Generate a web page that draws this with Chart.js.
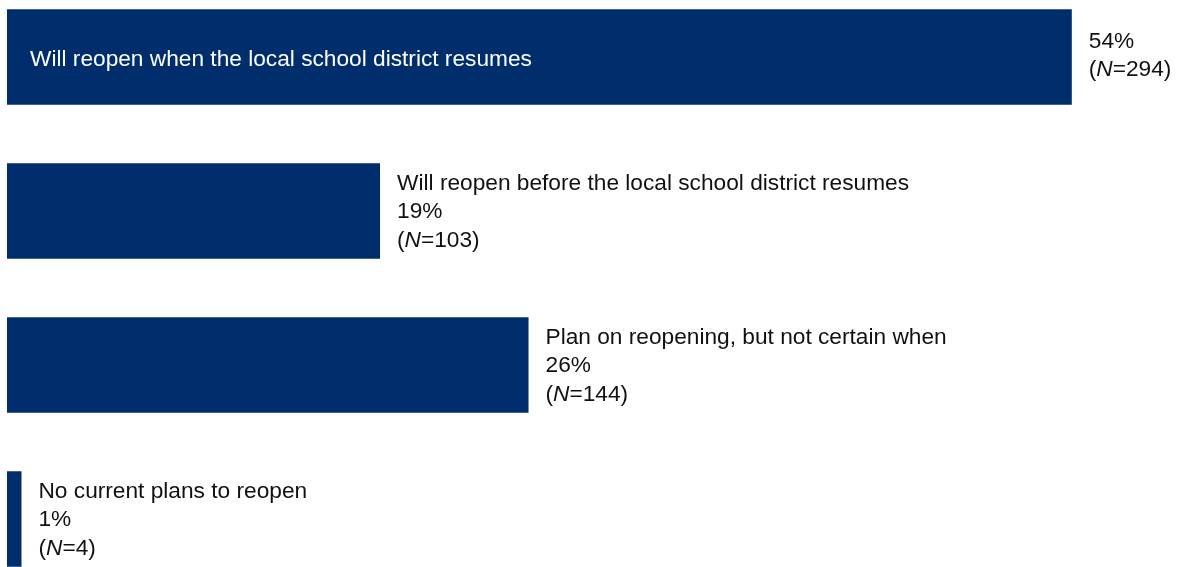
<!DOCTYPE html>
<html>
<head>
<meta charset="utf-8">
<script src="https://cdn.jsdelivr.net/npm/chart.js@4"></script>
<style>
    html, body { margin: 0; padding: 0; background: #fff; overflow: hidden; }
    #wrap { position: relative; width: 1179px; height: 616px; margin-top: -20px; }
</style>
</head>
<body>
<div id="wrap"><canvas id="reopenChart"></canvas></div>
<script>
const categories = [
    'Will reopen when the local school district resumes',
    'Will reopen before the local school district resumes',
    'Plan on reopening, but not certain when',
    'No current plans to reopen'
];
const counts = [294, 103, 144, 4];
const percentLabels = ['54%', '19%', '26%', '1%'];

const barColor = '#002E6D';
const textColor = '#111111';
const labelFont = '22.7px "Liberation Sans", Arial, sans-serif';
const italicFont = 'italic 22.7px "Liberation Sans", Arial, sans-serif';
const lineHeight = 28.5;

// draws "(N=xx)" with an italic N
function drawNLine(ctx, x, y, n) {
    ctx.font = labelFont;
    ctx.fillText('(', x, y);
    x += ctx.measureText('(').width;
    ctx.font = italicFont;
    ctx.fillText('N', x, y);
    x += ctx.measureText('N').width;
    ctx.font = labelFont;
    ctx.fillText('=' + n + ')', x, y);
}

const barLabels = {
    id: 'barLabels',
    afterDatasetsDraw(chart) {
        const ctx = chart.ctx;
        const bars = chart.getDatasetMeta(0).data;
        ctx.save();
        ctx.textBaseline = 'middle';
        ctx.textAlign = 'left';
        bars.forEach((bar, i) => {
            const x = bar.x + 17;
            if (i === 0) {
                // first bar carries its category inside
                ctx.font = labelFont;
                ctx.fillStyle = '#ffffff';
                ctx.fillText(categories[i], bar.base + 23, bar.y + 3);
                ctx.fillStyle = textColor;
                ctx.fillText(percentLabels[i], x, bar.y - 15);
                drawNLine(ctx, x, bar.y + 13, counts[i]);
            } else {
                ctx.fillStyle = textColor;
                ctx.font = labelFont;
                ctx.fillText(categories[i], x, bar.y + 1 - lineHeight);
                ctx.fillText(percentLabels[i], x, bar.y + 1);
                drawNLine(ctx, x, bar.y + 1 + lineHeight, counts[i]);
            }
        });
        ctx.restore();
    }
};

new Chart(document.getElementById('reopenChart'), {
    type: 'bar',
    data: {
        labels: categories,
        datasets: [{
            data: counts,
            backgroundColor: barColor,
            borderWidth: 0,
            barPercentage: 0.62,
            categoryPercentage: 1
        }]
    },
    options: {
        indexAxis: 'y',
        responsive: true,
        maintainAspectRatio: false,
        animation: false,
        layout: { padding: { left: 7, right: 0, top: 0, bottom: 0 } },
        scales: {
            x: { display: false, min: 0, max: 323.6 },
            y: { display: false }
        },
        plugins: {
            legend: { display: false },
            tooltip: { enabled: false }
        }
    },
    plugins: [barLabels]
});
</script>
</body>
</html>
